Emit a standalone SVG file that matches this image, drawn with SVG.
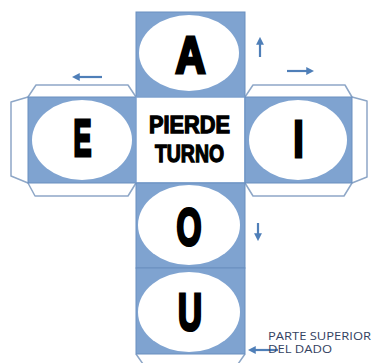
<svg xmlns="http://www.w3.org/2000/svg" width="372" height="363" viewBox="0 0 372 363">
<style>
.face{fill:#7fa3d0;stroke:#6a8fbf;stroke-width:1}
.oval{fill:#ffffff}
.flap{fill:none;stroke:#8ea7c7;stroke-width:1.5;stroke-linejoin:round}
.big{font-family:"Liberation Sans",Arial,sans-serif;font-weight:bold;font-size:51px;fill:#000;stroke:#000;stroke-width:3.2;stroke-linejoin:miter;text-anchor:middle}
.mid{font-family:"Liberation Sans",Arial,sans-serif;font-weight:bold;font-size:24px;fill:#000;stroke:#000;stroke-width:1.3;text-anchor:middle}
.note{font-family:"Open Sans","Liberation Sans",sans-serif;font-size:10.5px;fill:#33425f}
.arr{stroke:#4f7fb8;stroke-width:2.2;fill:none;marker-end:url(#ah)}
</style>
<defs>
<marker id="ah" viewBox="0 0 10 10" refX="6" refY="5" markerWidth="3.6" markerHeight="3.6" orient="auto" markerUnits="strokeWidth">
<path d="M0,0 L10,5 L0,10 Z" fill="#4f7fb8"/>
</marker>
</defs>
<rect width="372" height="363" fill="#ffffff"/>
<g id="flaps">
<path class="flap" d="M28,97 L36,85 L128,85 L136,97"/>
<path class="flap" d="M28,97 L11,102 L11,176 L28,183"/>
<path class="flap" d="M28,183 L35,196 L128,196 L136,183"/>
<path class="flap" d="M245,97 L253,85 L345,85 L352,97"/>
<path class="flap" d="M352,97 L367,101 L367,177 L352,183"/>
<path class="flap" d="M245,183 L253,196 L344,196 L352,183"/>
<path class="flap" d="M136,354 L143,364 L238,364 L245,354"/>
</g>
<g id="face-A">
<rect class="face" x="136" y="12" width="109" height="85"/>
<ellipse class="oval" cx="189" cy="53" rx="50" ry="38"/>
<text class="big" x="190.5" y="73" textLength="30" lengthAdjust="spacingAndGlyphs">A</text>
</g>
<g id="face-E">
<rect class="face" x="28" y="97" width="108" height="86"/>
<ellipse class="oval" cx="82" cy="140" rx="50" ry="40"/>
<text class="big" x="82.5" y="156" textLength="18" lengthAdjust="spacingAndGlyphs">E</text>
</g>
<g id="face-center">
<rect x="136" y="97" width="109" height="86" fill="#ffffff" stroke="#7fa3d0" stroke-width="1.5"/>
<text class="mid" x="189.5" y="133" textLength="81" lengthAdjust="spacingAndGlyphs">PIERDE</text>
<text class="mid" x="189.5" y="162" textLength="69" lengthAdjust="spacingAndGlyphs">TURNO</text>
</g>
<g id="face-I">
<rect class="face" x="245" y="97" width="107" height="86"/>
<ellipse class="oval" cx="298" cy="140" rx="49" ry="40"/>
<text class="big" x="298.5" y="156.5" textLength="10" lengthAdjust="spacingAndGlyphs">I</text>
</g>
<g id="face-O">
<rect class="face" x="136" y="183" width="109" height="85"/>
<ellipse class="oval" cx="189" cy="225" rx="51" ry="40"/>
<text class="big" x="189" y="245" textLength="25" lengthAdjust="spacingAndGlyphs">O</text>
</g>
<g id="face-U">
<rect class="face" x="136" y="268" width="109" height="86"/>
<ellipse class="oval" cx="189" cy="312" rx="51" ry="40"/>
<text class="big" x="190" y="330" textLength="24" lengthAdjust="spacingAndGlyphs">U</text>
</g>
<g id="connectors">
<line class="arr" x1="260" y1="57" x2="260" y2="40"/>
<line class="arr" x1="287" y1="71" x2="311" y2="71"/>
<line class="arr" x1="102" y1="77" x2="75" y2="77"/>
<line class="arr" x1="258" y1="223" x2="258" y2="238"/>
<line class="arr" x1="278" y1="350" x2="251" y2="350"/>
</g>
<g id="label">
<text class="note" x="268" y="340" textLength="103" lengthAdjust="spacingAndGlyphs">PARTE SUPERIOR</text>
<text class="note" x="268" y="353" textLength="64" lengthAdjust="spacingAndGlyphs">DEL DADO</text>
</g>
</svg>
